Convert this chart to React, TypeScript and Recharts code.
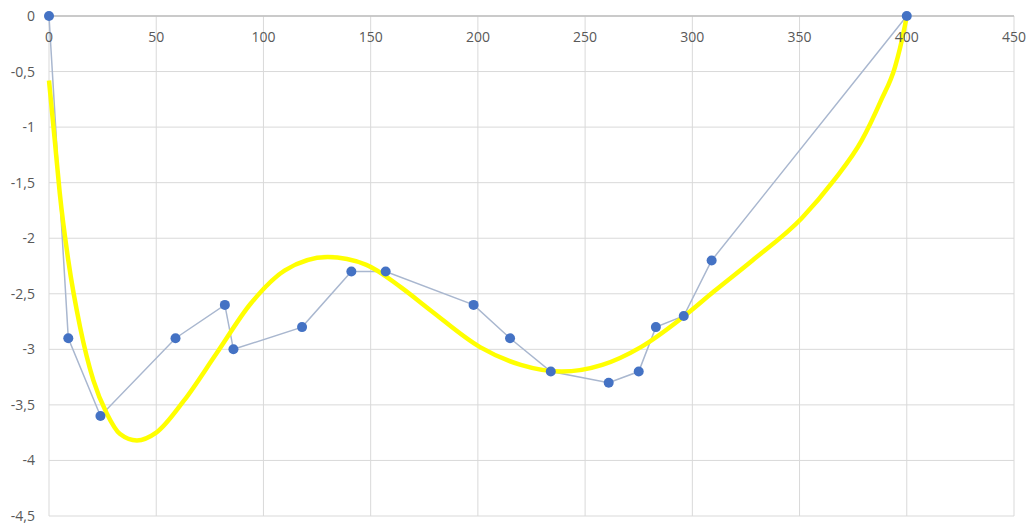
import React from "react";
import { ComposedChart, Line, XAxis, YAxis, CartesianGrid } from "recharts";

const pointX = [0, 9, 24, 59, 82, 86, 118, 141, 157, 198, 215, 234, 261, 275, 283, 296, 309, 400];
const pointY = [0, -2.9, -3.6, -2.9, -2.6, -3.0, -2.8, -2.3, -2.3, -2.6, -2.9, -3.2, -3.3, -3.2, -2.8, -2.7, -2.2, 0];

const trendX = [0, 2.8, 5, 9, 14.5, 20.7, 27, 33, 41, 50, 63, 78, 94, 110, 130, 148, 164, 178, 201, 220, 239, 258, 276, 295, 310, 328, 351, 366, 379, 388, 394.5, 399, 400];
const trendY = [-0.58, -1.14, -1.59, -2.2, -2.8, -3.28, -3.58, -3.76, -3.82, -3.75, -3.46, -3.04, -2.59, -2.29, -2.17, -2.24, -2.44, -2.65, -2.98, -3.14, -3.2, -3.14, -2.98, -2.72, -2.48, -2.2, -1.82, -1.48, -1.12, -0.76, -0.46, -0.1, 0];

const xTicks = [0, 50, 100, 150, 200, 250, 300, 350, 400, 450];
const yTicks = [0, -0.5, -1, -1.5, -2, -2.5, -3, -3.5, -4, -4.5];

const points = pointX.map((x, i) => ({ x, y: pointY[i] }));
const trend = trendX.map((x, i) => ({ x, y: trendY[i] }));

const FONT = "'Open Sans', sans-serif";
const LABEL = "#595959";

const renderXTick = (props: any) => {
  const { x, payload } = props;
  return (
    <text key={`xt-${payload.value}`} x={x} y={16 + 21} dy="0.355em" textAnchor="middle" fill={LABEL} fontSize={14} fontFamily={FONT}>
      {payload.value}
    </text>
  );
};

export default function App() {
  return (
    <div style={{ width: 1026, height: 530, marginTop: -8 }}>
      <ComposedChart
        width={1026}
        height={530}
        margin={{ top: 8, right: 20, bottom: 14, left: 0 }}
        style={{ overflow: "visible" }}
      >
        <CartesianGrid stroke="#d9d9d9" strokeWidth={1} />
        <XAxis
          dataKey="x"
          type="number"
          domain={[0, 450]}
          ticks={xTicks}
          orientation="top"
          height={8}
          tickLine={false}
          tickSize={0}
          tickMargin={0}
          interval={0}
          axisLine={{ stroke: "#bfbfbf", strokeWidth: 1.5 }}
          tick={renderXTick}
        />
        <YAxis
          dataKey="y"
          type="number"
          domain={[-4.5, 0]}
          ticks={yTicks}
          width={41}
          interval={0}
          axisLine={false}
          tickLine={false}
          tickSize={0}
          tickMargin={14}
          tick={{ fill: LABEL, fontSize: 14, fontFamily: FONT }}
          tickFormatter={(v: number) => String(v).replace(".", ",")}
        />
        <Line
          data={points}
          dataKey="y"
          type="linear"
          stroke="#a9b7cf"
          strokeWidth={1.5}
          dot={{ r: 5, fill: "#4472C4", stroke: "none" }}
          activeDot={false}
          isAnimationActive={false}
        />
        <Line
          data={trend}
          dataKey="y"
          type="monotone"
          stroke="#FFFF00"
          strokeWidth={4.5}
          dot={false}
          activeDot={false}
          isAnimationActive={false}
        />
      </ComposedChart>
    </div>
  );
}
